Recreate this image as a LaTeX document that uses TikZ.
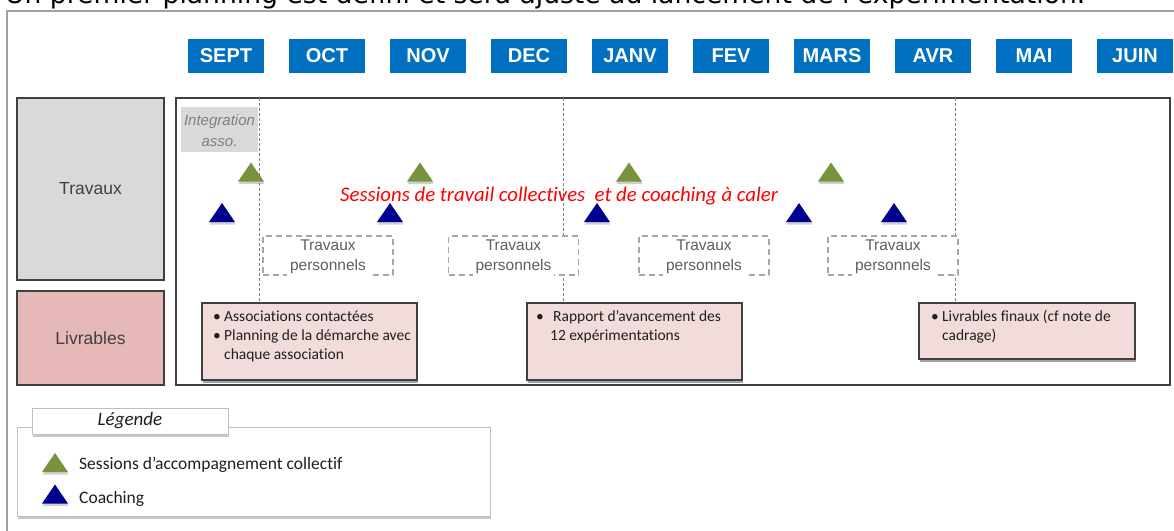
\documentclass[tikz,border=0pt]{standalone}
\usepackage{fontspec}
\usepackage{graphicx}
\setmainfont{Liberation Sans}
\newfontfamily\calib[Ligatures=NoCommon]{Carlito}
\newfontfamily\verd{DejaVu Sans}
\usetikzlibrary{shadows}
\definecolor{mblue}{HTML}{0070C0}
\definecolor{tgreen}{HTML}{77933C}
\definecolor{tblue}{HTML}{000090}
\definecolor{lgray}{HTML}{D9D9D9}
\definecolor{dgray}{HTML}{404040}
\definecolor{pinkA}{HTML}{E6B8B7}
\definecolor{pinkB}{HTML}{F2DCDB}
\definecolor{gray7}{HTML}{7F7F7F}
\definecolor{tpgray}{HTML}{A6A6A6}
\definecolor{tptext}{HTML}{5F5F5F}
\definecolor{txtdark}{HTML}{1F1F1F}
\definecolor{outergray}{HTML}{A0A0A0}
\definecolor{leggray}{HTML}{BFBFBF}
\tikzset{
  month/.style={fill=mblue, text=white, font=\bfseries\fontsize{20}{20}\selectfont,
    minimum width=76pt, minimum height=34pt, inner sep=0pt},
  rowlab/.style={draw=dgray, line width=1.5pt, text=dgray, font=\fontsize{17.5}{20}\selectfont,
    minimum width=147pt, inner sep=0pt},
  vline/.style={draw=gray7, line width=0.8pt, dash pattern=on 3pt off 2pt},
  tpbox/.style={draw=tpgray, line width=1.5pt, dash pattern=on 6pt off 4pt, fill=white,
    minimum width=130pt, minimum height=39pt, inner sep=0pt},
  tplab/.style={text=tptext, font=\fontsize{15.5}{18}\selectfont, inner sep=0pt, anchor=base},
  tplabw/.style={tplab, fill=white, inner xsep=3pt, inner ysep=3pt},
  softshadow/.style={drop shadow={shadow xshift=1pt, shadow yshift=-2.5pt, opacity=0.3, fill=black!70}},
  livbox/.style={draw=dgray, line width=1.5pt, fill=pinkB, minimum width=215pt, inner sep=0pt, softshadow},
  livtext/.style={font=\calib\fontsize{15.5}{19}\selectfont, text=txtdark, inner sep=0pt, anchor=base west},
  legtext/.style={font=\calib\fontsize{17.5}{20}\selectfont, text=txtdark, inner sep=0pt, anchor=base west},
  pics/mark/.style={code={\fill[#1, drop shadow={shadow xshift=0.5pt, shadow yshift=-2.5pt, opacity=0.3, fill=black!60}]
    (-13,9.5) -- (13,9.5) -- (0,-9.5) -- cycle;}},
}
\begin{document}
\begin{tikzpicture}[x=1pt,y=-1pt]
\useasboundingbox (0,0) rectangle (1174,530);
\clip (0,0) rectangle (1174,530);
\fill[white] (0,0) rectangle (1174,530);

% title (cut off at top)
\node[anchor=base west, inner sep=0pt] (title) at (5,4)
  {\resizebox{1080pt}{!}{\verd Un premier planning est défini et sera ajusté au lancement de l'expérimentation.}};

% outer frame
\coordinate (oc) at (7,11);
\draw[outergray, line width=2.5pt] (oc |- 0,560) -- (oc) -- (1200,11);

% months
\foreach \m [count=\i from 0] in {SEPT,OCT,NOV,DEC,JANV,FEV,MARS,AVR,MAI,JUIN}
  \node[month] (m\i) at (226+101*\i,56) {\m};

% row labels
\node[rowlab, fill=lgray, minimum height=182pt] (trav) at (90.5,189) {Travaux};
\node[rowlab, fill=pinkA, minimum height=94pt] (livr) at (90.5,338) {Livrables};

% main frame
\node[draw=dgray, line width=1.5pt, minimum width=994pt, minimum height=287pt, inner sep=0pt] (frame) at (673,241.5) {};

% deliverable boxes (defined first for line ends)
\node[livbox, minimum height=77pt] (boxA) at (309.5,341.5) {};
\node[livbox, minimum height=77pt] (boxB) at (634.5,341.5) {};
\node[livbox, minimum height=56pt, minimum width=216pt] (boxC) at (1027,331) {};

% vertical dotted lines
\coordinate (v1) at (259,98);
\coordinate (v2) at (563,98);
\coordinate (v3) at (955,98);
\draw[vline] (v1) -- (v1 |- boxA.north);
\draw[vline] (v2) -- (v2 |- boxB.north);
\draw[vline] (v3) -- (v3 |- boxC.north);

% integration box
\node[fill=lgray, minimum width=77pt, minimum height=45pt, inner sep=0pt] (integ) at (219.5,129.5) {};
\node[font=\itshape\fontsize{15}{21}\selectfont, text=gray7, inner sep=0pt, anchor=base] (integt1) at (219.5,125) {Integration};
\node[font=\itshape\fontsize{15}{21}\selectfont, text=gray7, inner sep=0pt, anchor=base] (integt2) at (219.5,146) {asso.};

% travaux personnels
\foreach \x [count=\k] in {328,513.5,704,893} {
  \node[tpbox] (tp\k) at (\x,255.5) {};
  \node[tplab] (tpa\k) at (\x,250) {Travaux};
  \node[tplabw] (tpb\k) at (\x,270) {personnels};
}

% triangles
\foreach \x in {251,420,629,831} \pic at (\x,172) {mark=tgreen};
\foreach \x in {222,390,597,799,894} \pic at (\x,212.5) {mark=tblue};

% red text
\node[anchor=base west, inner sep=0pt, text=red, font=\calib\itshape\fontsize{20.8}{24}\selectfont] (sess) at (340,201)
  {Sessions de travail collectives\ \ et de coaching à caler};

% redraw boxes above lines
\node[livbox, minimum height=77pt] at (boxA) {};
\node[livbox, minimum height=77pt] at (boxB) {};
\node[livbox, minimum height=56pt, minimum width=216pt] at (boxC) {};

% deliverable texts
\node[livtext] (tA) at (213,321) {\begin{tabular}[t]{@{}l@{}}
  \makebox[11pt][l]{•}Associations contactées\\
  \makebox[11pt][l]{•}Planning de la démarche avec\\
  \hspace*{11pt}chaque association\end{tabular}};
\node[livtext] (tB) at (536,321) {\begin{tabular}[t]{@{}l@{}}
  \makebox[17pt][l]{•}Rapport d’avancement des\\
  \hspace*{14pt}12 expérimentations\end{tabular}};
\node[livtext] (tC) at (931,321) {\begin{tabular}[t]{@{}l@{}}
  \makebox[11pt][l]{•}Livrables finaux (cf note de\\
  \hspace*{11pt}cadrage)\end{tabular}};

% legend
\node[draw=leggray, fill=white, line width=1pt, minimum width=473pt, minimum height=89pt, inner sep=0pt, softshadow] (leg) at (253.5,471.5) {};
\node[draw=leggray, fill=white, line width=1pt, minimum width=196pt, minimum height=26pt, inner sep=0pt, softshadow,
  font=\calib\itshape\fontsize{19}{20}\selectfont, text=txtdark] (legt) at (130,421) {Légende};
\pic at (55,462.5) {mark=tgreen};
\pic at (55,494) {mark=tblue};
\node[legtext] (lg1) at (79,469.5) {Sessions d’accompagnement collectif};
\node[legtext] (lg2) at (79,503) {Coaching};
\end{tikzpicture}
\end{document}
